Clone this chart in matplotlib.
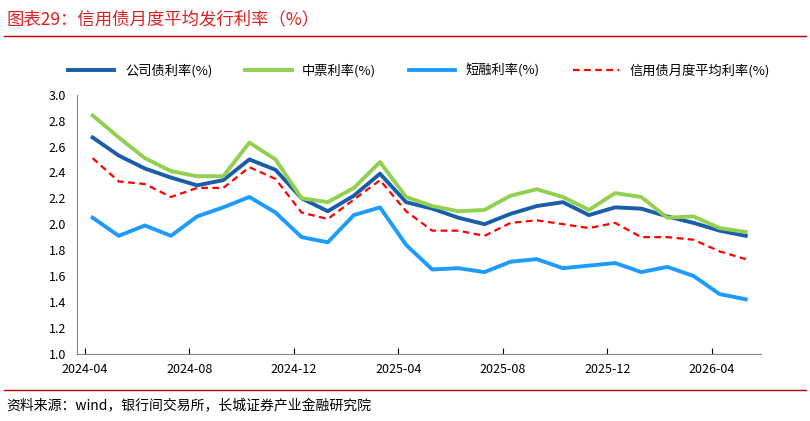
import matplotlib.pyplot as plt

plt.rcParams['font.family'] = ['Noto Sans CJK SC', 'DejaVu Sans']

company = [2.67, 2.53, 2.43, 2.36, 2.30, 2.34, 2.50, 2.42, 2.20, 2.10, 2.22, 2.39, 2.17,
           2.12, 2.05, 2.00, 2.08, 2.14, 2.17, 2.07, 2.13, 2.12, 2.06, 2.01, 1.95, 1.91]
mtn = [2.84, 2.67, 2.51, 2.41, 2.37, 2.37, 2.63, 2.50, 2.20, 2.17, 2.28, 2.48, 2.21,
       2.14, 2.10, 2.11, 2.22, 2.27, 2.21, 2.11, 2.24, 2.21, 2.05, 2.06, 1.97, 1.94]
short = [2.05, 1.91, 1.99, 1.91, 2.06, 2.13, 2.21, 2.09, 1.90, 1.86, 2.07, 2.13, 1.84,
         1.65, 1.66, 1.63, 1.71, 1.73, 1.66, 1.68, 1.70, 1.63, 1.67, 1.60, 1.46, 1.42]
average = [2.51, 2.33, 2.31, 2.21, 2.28, 2.28, 2.44, 2.35, 2.09, 2.04, 2.19, 2.34, 2.10,
           1.95, 1.95, 1.91, 2.01, 2.03, 2.00, 1.97, 2.01, 1.90, 1.90, 1.88, 1.79, 1.73]
tick_labels = ['2024-04', '2024-08', '2024-12', '2025-04', '2025-08', '2025-12', '2026-04']

x = list(range(len(company)))

fig = plt.figure(figsize=(8.1, 4.21), dpi=100)
ax = fig.add_axes([0.095, 0.16, 0.845, 0.615])

ax.plot(x, company, color='#1a5da8', lw=2.8, label='公司债利率(%)')
ax.plot(x, mtn, color='#92d050', lw=2.8, label='中票利率(%)')
ax.plot(x, short, color='#1e9bff', lw=2.8, label='短融利率(%)')
ax.plot(x, average, color='#ff0000', lw=1.6, ls=(0, (3, 2)), label='信用债月度平均利率(%)')

ax.set_ylim(1.0, 3.0)
ax.set_yticks([1.0 + 0.2 * i for i in range(11)])
ax.set_yticklabels([f'{1.0 + 0.2 * i:.1f}' for i in range(11)], fontsize=9)
ax.set_xlim(-0.6, 25.6)
ax.set_xticks([i * 4 - 0.3 for i in range(7)])
ax.set_xticklabels(tick_labels, fontsize=9)
ax.tick_params(axis='x', direction='in', length=4, pad=7)
ax.tick_params(axis='y', length=0, pad=8)
for s in ['top', 'right']:
    ax.spines[s].set_visible(False)
ax.spines['left'].set_color('#888888')
ax.spines['bottom'].set_color('#888888')

ax.legend(loc='lower center', bbox_to_anchor=(0.5, 1.02), ncol=4, frameon=False,
          fontsize=9.5, handlelength=3.5, columnspacing=2.5)

fig.text(0.008, 0.955, '图表29：信用债月度平均发行利率（%）', color='#e02020',
         fontsize=12.5, style='italic', va='center')
fig.add_artist(plt.Line2D([0.005, 0.995], [0.915, 0.915], color='#c00000', lw=1))
fig.add_artist(plt.Line2D([0.005, 0.995], [0.073, 0.073], color='#c00000', lw=1))
fig.text(0.008, 0.035, '资料来源：wind，银行间交易所，长城证券产业金融研究院',
         fontsize=10, style='italic', va='center')

fig.savefig('out.png', dpi=100)
